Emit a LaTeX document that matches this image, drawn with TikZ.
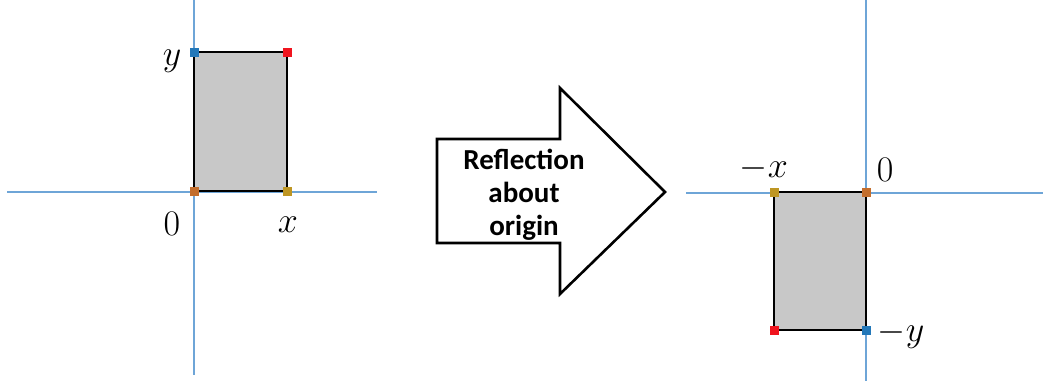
\documentclass[tikz,border=0pt]{standalone}
\usepackage{fix-cm}
\usepackage{fontspec}
\newfontfamily\arrowfont{Carlito}
\begin{document}
\begin{tikzpicture}[x=1pt,y=-1pt,
  axis/.style={draw={rgb,255:red,110;green,165;blue,215},line width=1.3pt},
  rectbox/.style={draw=black,fill={rgb,255:red,200;green,200;blue,200},line width=2.6pt},
  corner/.style={minimum size=9pt,inner sep=0pt,outer sep=0pt},
  lbl/.style={font=\fontsize{36}{40}\selectfont,inner sep=0pt},
  arrowshape/.style={draw=black,fill=white,line width=2.6pt,line join=miter}]
\useasboundingbox (0,0) rectangle (1043,381);
% left axes
\coordinate (lh1) at (7,192); \coordinate (lh2) at (377,192);
\coordinate (lv1) at (194,0); \coordinate (lv2) at (194,375);
\draw[axis] (lh1) -- (lh2);
\draw[axis] (lv1) -- (lv2);
% left rectangle
\draw[rectbox] (194,52) rectangle (287,191);
\node[corner,fill={rgb,255:red,35;green,120;blue,185}] (lb) at (194,52) {};
\node[corner,fill={rgb,255:red,240;green,20;blue,30}] (lr) at (287,52) {};
\node[corner,fill={rgb,255:red,195;green,110;blue,45}] (lo) at (194,191) {};
\node[corner,fill={rgb,255:red,190;green,150;blue,35}] (lg) at (287,191) {};
\node[lbl] (ly) at (172,61) {$y$};
\node[lbl] (l0) at (172,224) {$0$};
\node[lbl] (lx) at (288,225) {$x$};
% arrow
\draw[arrowshape] (437,139) -- (560,139) -- (560,88) -- (665,192) -- (560,294) -- (560,243) -- (437,243) -- cycle;
\node[font=\arrowfont\bfseries\fontsize{29}{33}\selectfont,align=center,inner sep=0pt] (txt) at (524,195) {Reflection\\about\\origin};
% right axes
\coordinate (rh1) at (686,193); \coordinate (rh2) at (1043,193);
\coordinate (rv1) at (866,0); \coordinate (rv2) at (866,381);
\draw[axis] (rh1) -- (rh2);
\draw[axis] (rv1) -- (rv2);
% right rectangle
\draw[rectbox] (774,192) rectangle (866,330);
\node[corner,fill={rgb,255:red,190;green,150;blue,35}] (rg) at (774,192) {};
\node[corner,fill={rgb,255:red,195;green,110;blue,45}] (ro) at (866,192) {};
\node[corner,fill={rgb,255:red,240;green,20;blue,30}] (rr) at (774,330) {};
\node[corner,fill={rgb,255:red,35;green,120;blue,185}] (rb) at (866,330) {};
\node[lbl] (rx) at (764,168) {$-x$};
\node[lbl] (r0) at (885,170) {$0$};
\node[lbl] (ry) at (901,334) {$-y$};
\end{tikzpicture}
\end{document}
